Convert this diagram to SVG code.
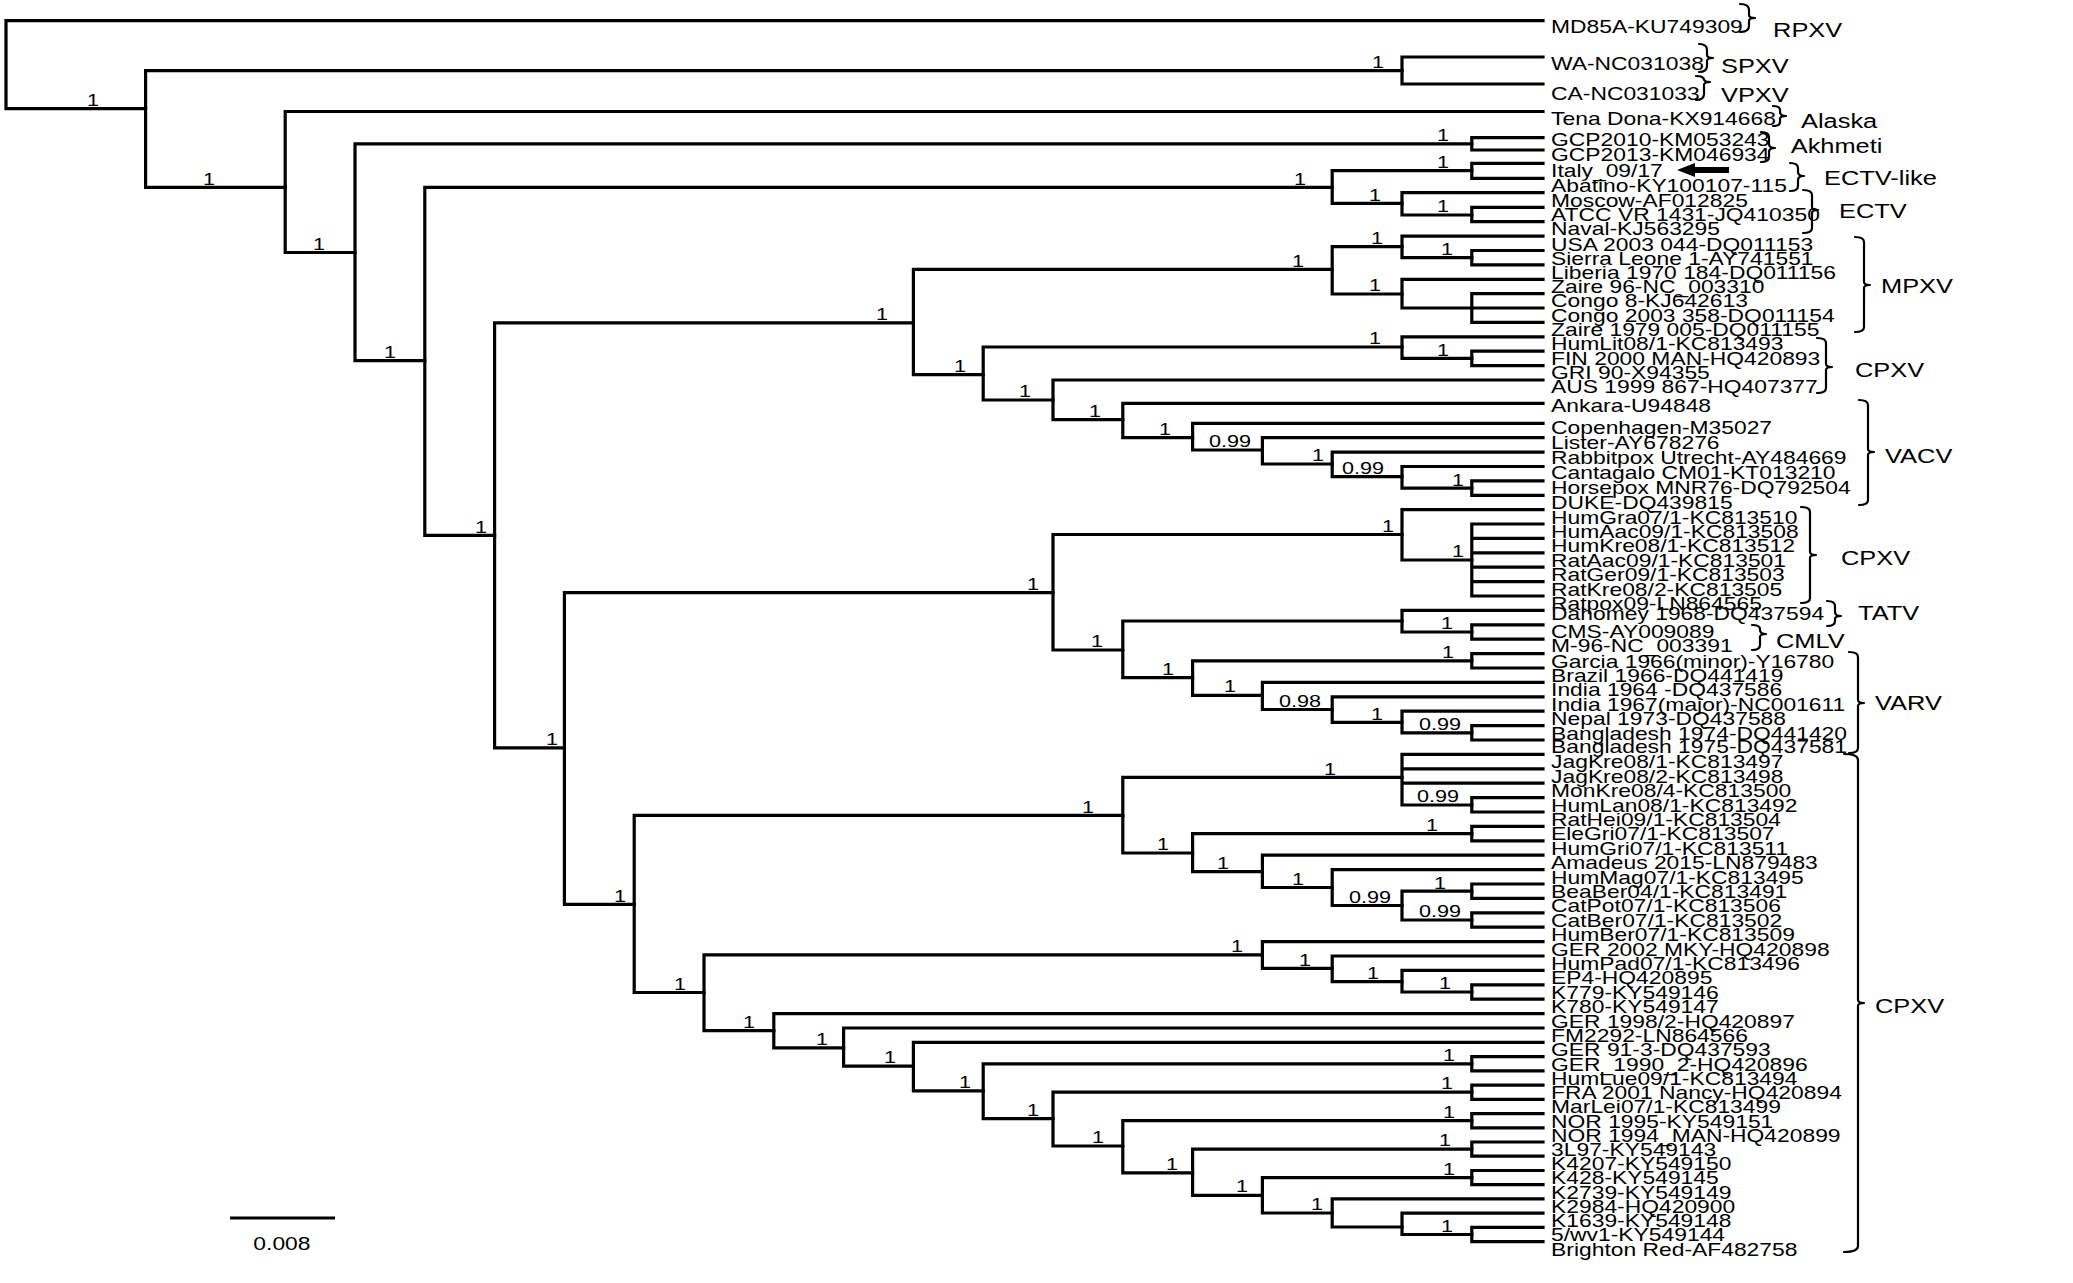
<svg xmlns="http://www.w3.org/2000/svg" width="2073" height="1283" viewBox="0 0 2073 1283">
<style>
.t{font-family:"Liberation Sans",Arial,sans-serif;fill:#000}
.lf{font-size:18px}
.sp{font-size:17px;text-anchor:middle}
.cl{font-size:20px}
.br{fill:none;stroke:#000;stroke-width:3.2;stroke-linecap:square}
.bk{fill:none;stroke:#000;stroke-width:2.2;stroke-linecap:round;stroke-linejoin:round}
</style>
<rect width="2073" height="1283" fill="#fff"/>
<g id="connectors" class="br">
<path d="M6 20.7V108.6M6 20.7H1543M6 108.6H145.6"/>
<path d="M145.6 70.7V187.3M145.6 70.7H1402M145.6 187.3H285.2"/>
<path d="M1402 57V84M1402 57H1543M1402 84H1543"/>
<path d="M285.2 111.5V252.5M285.2 111.5H1543M285.2 252.5H355"/>
<path d="M355 143.8V360.7M355 143.8H1471.8M355 360.7H424.8"/>
<path d="M1471.8 137.7V150M1471.8 137.7H1543M1471.8 150H1543"/>
<path d="M424.8 187.3V535.4M424.8 187.3H1332.2M424.8 535.4H494.6"/>
<path d="M1332.2 170.7V203.3M1332.2 170.7H1471.8M1332.2 203.3H1402"/>
<path d="M1471.8 163.3V178.3M1471.8 163.3H1543M1471.8 178.3H1543"/>
<path d="M1402 192.7V215M1402 192.7H1543M1402 215H1471.8"/>
<path d="M1471.8 207.3V221.7M1471.8 207.3H1543M1471.8 221.7H1543"/>
<path d="M494.6 322.8V747.8M494.6 322.8H913.4M494.6 747.8H564.4"/>
<path d="M913.4 269.4V374.6M913.4 269.4H1332.2M913.4 374.6H983.2"/>
<path d="M1332.2 246.7V294M1332.2 246.7H1402M1332.2 294H1402"/>
<path d="M1402 236.1V257.7M1402 236.1H1543M1402 257.7H1471.8"/>
<path d="M1471.8 250.5V264.9M1471.8 250.5H1543M1471.8 264.9H1543"/>
<path d="M1402 279.3V308M1402 279.3H1543M1402 308H1471.8"/>
<path d="M1471.8 293.7V322.4M1471.8 293.7H1543M1471.8 308H1543M1471.8 322.4H1543"/>
<path d="M983.2 347V400M983.2 347H1402M983.2 400H1053"/>
<path d="M1402 336.8V358.4M1402 336.8H1543M1402 358.4H1471.8"/>
<path d="M1471.8 351.2V365.6M1471.8 351.2H1543M1471.8 365.6H1543"/>
<path d="M1053 380V419.6M1053 380H1543M1053 419.6H1122.8"/>
<path d="M1122.8 403.3V437.7M1122.8 403.3H1543M1122.8 437.7H1192.6"/>
<path d="M1192.6 423.3V450M1192.6 423.3H1543M1192.6 450H1262.4"/>
<path d="M1262.4 437.7V464M1262.4 437.7H1543M1262.4 464H1332.2"/>
<path d="M1332.2 452.1V476.7M1332.2 452.1H1543M1332.2 476.7H1402"/>
<path d="M1402 466.5V488.1M1402 466.5H1543M1402 488.1H1471.8"/>
<path d="M1471.8 480.9V495.3M1471.8 480.9H1543M1471.8 495.3H1543"/>
<path d="M564.4 592.6V904.3M564.4 592.6H1053M564.4 904.3H634.2"/>
<path d="M1053 534.5V650M1053 534.5H1402M1053 650H1122.8"/>
<path d="M1402 509.6V560M1402 509.6H1543M1402 560H1471.8"/>
<path d="M1471.8 524V596M1471.8 524H1543M1471.8 538.4H1543M1471.8 552.8H1543M1471.8 567.2H1543M1471.8 581.6H1543M1471.8 596H1543"/>
<path d="M1122.8 621V677.7M1122.8 621H1402M1122.8 677.7H1192.6"/>
<path d="M1402 610.4V632M1402 610.4H1543M1402 632H1471.8"/>
<path d="M1471.8 624.8V639.2M1471.8 624.8H1543M1471.8 639.2H1543"/>
<path d="M1192.6 660.8V695.3M1192.6 660.8H1471.8M1192.6 695.3H1262.4"/>
<path d="M1471.8 653.6V668M1471.8 653.6H1543M1471.8 668H1543"/>
<path d="M1262.4 682.4V709.5M1262.4 682.4H1543M1262.4 709.5H1332.2"/>
<path d="M1332.2 696.8V722.3M1332.2 696.8H1543M1332.2 722.3H1402"/>
<path d="M1402 711.2V732.8M1402 711.2H1543M1402 732.8H1471.8"/>
<path d="M1471.8 725.6V740M1471.8 725.6H1543M1471.8 740H1543"/>
<path d="M634.2 815.4V992.5M634.2 815.4H1122.8M634.2 992.5H704"/>
<path d="M1122.8 777.3V853M1122.8 777.3H1402M1122.8 853H1192.6"/>
<path d="M1402 754.4V805M1402 754.4H1543M1402 768.8H1543M1402 783.2H1543M1402 805H1471.8"/>
<path d="M1471.8 797.6V812M1471.8 797.6H1543M1471.8 812H1543"/>
<path d="M1192.6 833.6V871.6M1192.6 833.6H1471.8M1192.6 871.6H1262.4"/>
<path d="M1471.8 826.4V840.8M1471.8 826.4H1543M1471.8 840.8H1543"/>
<path d="M1262.4 855.2V887.5M1262.4 855.2H1543M1262.4 887.5H1332.2"/>
<path d="M1332.2 869.6V905.5M1332.2 869.6H1543M1332.2 905.5H1402"/>
<path d="M1402 891.2V920M1402 891.2H1471.8M1402 920H1471.8"/>
<path d="M1471.8 884V898.4M1471.8 884H1543M1471.8 898.4H1543"/>
<path d="M1471.8 912.8V927.2M1471.8 912.8H1543M1471.8 927.2H1543"/>
<path d="M704 954.8V1030.6M704 954.8H1262.4M704 1030.6H773.8"/>
<path d="M1262.4 941.6V968.3M1262.4 941.6H1543M1262.4 968.3H1332.2"/>
<path d="M1332.2 956V981.7M1332.2 956H1543M1332.2 981.7H1402"/>
<path d="M1402 970.4V992M1402 970.4H1543M1402 992H1471.8"/>
<path d="M1471.8 984.8V999.2M1471.8 984.8H1543M1471.8 999.2H1543"/>
<path d="M773.8 1013.6V1047.8M773.8 1013.6H1543M773.8 1047.8H843.6"/>
<path d="M843.6 1028V1066.2M843.6 1028H1543M843.6 1066.2H913.4"/>
<path d="M913.4 1042.4V1090.8M913.4 1042.4H1543M913.4 1090.8H983.2"/>
<path d="M983.2 1063.8V1118.7M983.2 1063.8H1471.8M983.2 1118.7H1053"/>
<path d="M1471.8 1056.6V1070.9M1471.8 1056.6H1543M1471.8 1070.9H1543"/>
<path d="M1053 1092.2V1146M1053 1092.2H1471.8M1053 1146H1122.8"/>
<path d="M1471.8 1085.1V1099.3M1471.8 1085.1H1543M1471.8 1099.3H1543"/>
<path d="M1122.8 1120.7V1172.8M1122.8 1120.7H1471.8M1122.8 1172.8H1192.6"/>
<path d="M1471.8 1113.6V1127.8M1471.8 1113.6H1543M1471.8 1127.8H1543"/>
<path d="M1192.6 1149.1V1195.3M1192.6 1149.1H1471.8M1192.6 1195.3H1262.4"/>
<path d="M1471.8 1142V1156.2M1471.8 1142H1543M1471.8 1156.2H1543"/>
<path d="M1262.4 1177.6V1213M1262.4 1177.6H1471.8M1262.4 1213H1332.2"/>
<path d="M1471.8 1170.5V1184.7M1471.8 1170.5H1543M1471.8 1184.7H1543"/>
<path d="M1332.2 1198.9V1227M1332.2 1198.9H1543M1332.2 1227H1402"/>
<path d="M1402 1213.2V1234.5M1402 1213.2H1543M1402 1234.5H1471.8"/>
<path d="M1471.8 1227.4V1241.6M1471.8 1227.4H1543M1471.8 1241.6H1543"/>
</g>
<g id="leaves" class="t lf" transform="scale(1.27,1)">
<g id="leaf-01"><text x="1221.3" y="33.3">MD85A-KU749309</text></g>
<g id="leaf-02"><text x="1221.3" y="70">WA-NC031038</text></g>
<g id="leaf-03"><text x="1221.3" y="100">CA-NC031033</text></g>
<g id="leaf-04"><text x="1221.3" y="125">Tena Dona-KX914668</text></g>
<g id="leaf-05"><text x="1221.3" y="146.5">GCP2010-KM053243</text></g>
<g id="leaf-06"><text x="1221.3" y="161.5">GCP2013-KM046934</text></g>
<g id="leaf-07"><text x="1221.3" y="176.7">Italy_09/17</text></g>
<g id="leaf-08"><text x="1221.3" y="192.5">Abatino-KY100107-115</text></g>
<g id="leaf-09"><text x="1221.3" y="207.5">Moscow-AF012825</text></g>
<g id="leaf-10"><text x="1221.3" y="221.5">ATCC VR 1431-JQ410350</text></g>
<g id="leaf-11"><text x="1221.3" y="235.5">Naval-KJ563295</text></g>
<g id="leaf-12"><text x="1221.3" y="251.5">USA 2003 044-DQ011153</text></g>
<g id="leaf-13"><text x="1221.3" y="264.8">Sierra Leone 1-AY741551</text></g>
<g id="leaf-14"><text x="1221.3" y="279">Liberia 1970 184-DQ011156</text></g>
<g id="leaf-15"><text x="1221.3" y="293.3">Zaire 96-NC_003310</text></g>
<g id="leaf-16"><text x="1221.3" y="307.5">Congo 8-KJ642613</text></g>
<g id="leaf-17"><text x="1221.3" y="322">Congo 2003 358-DQ011154</text></g>
<g id="leaf-18"><text x="1221.3" y="336.4">Zaire 1979 005-DQ011155</text></g>
<g id="leaf-19"><text x="1221.3" y="350.5">HumLit08/1-KC813493</text></g>
<g id="leaf-20"><text x="1221.3" y="365">FIN 2000 MAN-HQ420893</text></g>
<g id="leaf-21"><text x="1221.3" y="379.5">GRI 90-X94355</text></g>
<g id="leaf-22"><text x="1221.3" y="393.5">AUS 1999 867-HQ407377</text></g>
<g id="leaf-23"><text x="1221.3" y="412.5">Ankara-U94848</text></g>
<g id="leaf-24"><text x="1221.3" y="434">Copenhagen-M35027</text></g>
<g id="leaf-25"><text x="1221.3" y="449">Lister-AY678276</text></g>
<g id="leaf-26"><text x="1221.3" y="464">Rabbitpox Utrecht-AY484669</text></g>
<g id="leaf-27"><text x="1221.3" y="479">Cantagalo CM01-KT013210</text></g>
<g id="leaf-28"><text x="1221.3" y="494">Horsepox MNR76-DQ792504</text></g>
<g id="leaf-29"><text x="1221.3" y="509">DUKE-DQ439815</text></g>
<g id="leaf-30"><text x="1221.3" y="523.6">HumGra07/1-KC813510</text></g>
<g id="leaf-31"><text x="1221.3" y="538">HumAac09/1-KC813508</text></g>
<g id="leaf-32"><text x="1221.3" y="552.4">HumKre08/1-KC813512</text></g>
<g id="leaf-33"><text x="1221.3" y="566.8">RatAac09/1-KC813501</text></g>
<g id="leaf-34"><text x="1221.3" y="581.2">RatGer09/1-KC813503</text></g>
<g id="leaf-35"><text x="1221.3" y="595.6">RatKre08/2-KC813505</text></g>
<g id="leaf-36"><text x="1221.3" y="610">Ratpox09-LN864565</text></g>
<g id="leaf-37"><text x="1221.3" y="620.5">Dahomey 1968-DQ437594</text></g>
<g id="leaf-38"><text x="1221.3" y="638">CMS-AY009089</text></g>
<g id="leaf-39"><text x="1221.3" y="652.5">M-96-NC_003391</text></g>
<g id="leaf-40"><text x="1221.3" y="667.6">Garcia 1966(minor)-Y16780</text></g>
<g id="leaf-41"><text x="1221.3" y="682">Brazil 1966-DQ441419</text></g>
<g id="leaf-42"><text x="1221.3" y="696.4">India 1964 -DQ437586</text></g>
<g id="leaf-43"><text x="1221.3" y="710.8">India 1967(major)-NC001611</text></g>
<g id="leaf-44"><text x="1221.3" y="725.2">Nepal 1973-DQ437588</text></g>
<g id="leaf-45"><text x="1221.3" y="739.6">Bangladesh 1974-DQ441420</text></g>
<g id="leaf-46"><text x="1221.3" y="753.5">Bangladesh 1975-DQ437581</text></g>
<g id="leaf-47"><text x="1221.3" y="768.4">JagKre08/1-KC813497</text></g>
<g id="leaf-48"><text x="1221.3" y="782.8">JagKre08/2-KC813498</text></g>
<g id="leaf-49"><text x="1221.3" y="797.2">MonKre08/4-KC813500</text></g>
<g id="leaf-50"><text x="1221.3" y="811.6">HumLan08/1-KC813492</text></g>
<g id="leaf-51"><text x="1221.3" y="826">RatHei09/1-KC813504</text></g>
<g id="leaf-52"><text x="1221.3" y="840.4">EleGri07/1-KC813507</text></g>
<g id="leaf-53"><text x="1221.3" y="854.8">HumGri07/1-KC813511</text></g>
<g id="leaf-54"><text x="1221.3" y="869.2">Amadeus 2015-LN879483</text></g>
<g id="leaf-55"><text x="1221.3" y="883.6">HumMag07/1-KC813495</text></g>
<g id="leaf-56"><text x="1221.3" y="898">BeaBer04/1-KC813491</text></g>
<g id="leaf-57"><text x="1221.3" y="912.4">CatPot07/1-KC813506</text></g>
<g id="leaf-58"><text x="1221.3" y="926.8">CatBer07/1-KC813502</text></g>
<g id="leaf-59"><text x="1221.3" y="941.2">HumBer07/1-KC813509</text></g>
<g id="leaf-60"><text x="1221.3" y="955.6">GER 2002 MKY-HQ420898</text></g>
<g id="leaf-61"><text x="1221.3" y="970">HumPad07/1-KC813496</text></g>
<g id="leaf-62"><text x="1221.3" y="984.4">EP4-HQ420895</text></g>
<g id="leaf-63"><text x="1221.3" y="998.8">K779-KY549146</text></g>
<g id="leaf-64"><text x="1221.3" y="1013.2">K780-KY549147</text></g>
<g id="leaf-65"><text x="1221.3" y="1027.6">GER 1998/2-HQ420897</text></g>
<g id="leaf-66"><text x="1221.3" y="1042">FM2292-LN864566</text></g>
<g id="leaf-67"><text x="1221.3" y="1056.4">GER 91-3-DQ437593</text></g>
<g id="leaf-68"><text x="1221.3" y="1070.6">GER_1990_2-HQ420896</text></g>
<g id="leaf-69"><text x="1221.3" y="1084.9">HumLue09/1-KC813494</text></g>
<g id="leaf-70"><text x="1221.3" y="1099.1">FRA 2001 Nancy-HQ420894</text></g>
<g id="leaf-71"><text x="1221.3" y="1113.3">MarLei07/1-KC813499</text></g>
<g id="leaf-72"><text x="1221.3" y="1127.6">NOR 1995-KY549151</text></g>
<g id="leaf-73"><text x="1221.3" y="1141.8">NOR 1994_MAN-HQ420899</text></g>
<g id="leaf-74"><text x="1221.3" y="1156">3L97-KY549143</text></g>
<g id="leaf-75"><text x="1221.3" y="1170.2">K4207-KY549150</text></g>
<g id="leaf-76"><text x="1221.3" y="1184.5">K428-KY549145</text></g>
<g id="leaf-77"><text x="1221.3" y="1198.7">K2739-KY549149</text></g>
<g id="leaf-78"><text x="1221.3" y="1212.9">K2984-HQ420900</text></g>
<g id="leaf-79"><text x="1221.3" y="1227.2">K1639-KY549148</text></g>
<g id="leaf-80"><text x="1221.3" y="1241.4">5/wv1-KY549144</text></g>
<g id="leaf-81"><text x="1221.3" y="1255.6">Brighton Red-AF482758</text></g>
</g>
<g id="support" class="t sp" transform="scale(1.27,1)">
<text x="73.2" y="106">1</text>
<text x="1085" y="68">1</text>
<text x="164.6" y="185">1</text>
<text x="251.2" y="250">1</text>
<text x="1136.2" y="141.5">1</text>
<text x="307.1" y="358">1</text>
<text x="1023.6" y="185">1</text>
<text x="1136.2" y="168">1</text>
<text x="1082.7" y="201">1</text>
<text x="1136.2" y="212.5">1</text>
<text x="378.7" y="533">1</text>
<text x="694.5" y="320">1</text>
<text x="1022" y="267">1</text>
<text x="1084.3" y="244">1</text>
<text x="1139.4" y="255.5">1</text>
<text x="1082.7" y="291.5">1</text>
<text x="755.9" y="372">1</text>
<text x="1082.7" y="344.5">1</text>
<text x="1136.2" y="356">1</text>
<text x="807.1" y="397.5">1</text>
<text x="862.2" y="417">1</text>
<text x="917.3" y="435">1</text>
<text x="968.5" y="447.5">0.99</text>
<text x="1037.8" y="461.5">1</text>
<text x="1073.2" y="474">0.99</text>
<text x="1148" y="486">1</text>
<text x="434.6" y="745">1</text>
<text x="813.4" y="590">1</text>
<text x="1092.9" y="532">1</text>
<text x="1148" y="557.5">1</text>
<text x="863.8" y="647.5">1</text>
<text x="1139.4" y="629">1</text>
<text x="919.7" y="675">1</text>
<text x="1140.2" y="658">1</text>
<text x="968.5" y="692.5">1</text>
<text x="1023.6" y="707">0.98</text>
<text x="1084.3" y="720">1</text>
<text x="1133.9" y="730.5">0.99</text>
<text x="488.2" y="902">1</text>
<text x="856.7" y="813">1</text>
<text x="1047.2" y="775">1</text>
<text x="1132.3" y="802.5">0.99</text>
<text x="915.7" y="850.5">1</text>
<text x="1127.6" y="831">1</text>
<text x="963" y="869">1</text>
<text x="1022" y="885">1</text>
<text x="1078.7" y="903">0.99</text>
<text x="1133.9" y="889">1</text>
<text x="1133.9" y="917.5">0.99</text>
<text x="535.4" y="990">1</text>
<text x="974" y="952">1</text>
<text x="1027.6" y="966">1</text>
<text x="1081.1" y="979">1</text>
<text x="1137.8" y="989.5">1</text>
<text x="589.8" y="1028">1</text>
<text x="647.2" y="1045">1</text>
<text x="700.8" y="1063.5">1</text>
<text x="759.8" y="1088">1</text>
<text x="1140.9" y="1061.5">1</text>
<text x="813.4" y="1116">1</text>
<text x="1139.4" y="1089.5">1</text>
<text x="864.6" y="1143.5">1</text>
<text x="1140.9" y="1118">1</text>
<text x="922.8" y="1170">1</text>
<text x="1137.8" y="1146.5">1</text>
<text x="977.9" y="1192.5">1</text>
<text x="1140.9" y="1175">1</text>
<text x="1037" y="1210">1</text>
<text x="1139.4" y="1232">1</text>
</g>
<g id="clades">
<g id="clade-RPXV"><path class="bk" d="M1740 4Q1749 4 1749 10V15Q1749 18 1755 18Q1749 18 1749 21V26Q1749 32 1740 32"/><text class="t cl" transform="scale(1.27,1)" x="1396.1" y="37">RPXV</text></g>
<g id="clade-SPXV"><path class="bk" d="M1699 44Q1707 44 1707 50V55Q1707 58 1713 58Q1707 58 1707 61V66Q1707 72 1699 72"/><text class="t cl" transform="scale(1.27,1)" x="1355.1" y="73">SPXV</text></g>
<g id="clade-VPXV"><path class="bk" d="M1696 76Q1704 76 1704 80V79Q1704 82 1710 82Q1704 82 1704 85V94Q1704 100 1696 100"/><text class="t cl" transform="scale(1.27,1)" x="1355.1" y="102">VPXV</text></g>
<g id="clade-Alaska"><path class="bk" d="M1773 106Q1780 106 1780 110V112Q1780 116 1786 116Q1780 116 1780 119V122Q1780 126 1773 126"/><text class="t cl" transform="scale(1.27,1)" x="1418.1" y="128">Alaska</text></g>
<g id="clade-Akhmeti"><path class="bk" d="M1761 132Q1769 132 1769 137V144Q1769 148 1775 148Q1769 148 1769 152V157Q1769 162 1761 162"/><text class="t cl" transform="scale(1.27,1)" x="1410" y="153">Akhmeti</text></g>
<g id="clade-ECTV-like"><path class="bk" d="M1790 163Q1798 163 1798 168V172Q1798 176 1804 176Q1798 176 1798 180V186Q1798 191 1790 191"/><text class="t cl" transform="scale(1.27,1)" x="1436.2" y="185">ECTV-like</text></g>
<g id="clade-ECTV"><path class="bk" d="M1803 190Q1812 190 1812 195V207Q1812 210 1818 210Q1812 210 1812 213V228Q1812 233 1803 233"/><text class="t cl" transform="scale(1.27,1)" x="1448" y="218">ECTV</text></g>
<g id="clade-MPXV"><path class="bk" d="M1855 237Q1864 237 1864 242V282Q1864 285 1870 285Q1864 285 1864 288V327Q1864 332 1855 332"/><text class="t cl" transform="scale(1.27,1)" x="1481.1" y="293">MPXV</text></g>
<g id="clade-CPXV-1"><path class="bk" d="M1817 338Q1826 338 1826 343V364Q1826 367 1832 367Q1826 367 1826 370V388Q1826 393 1817 393"/><text class="t cl" transform="scale(1.27,1)" x="1460.6" y="377">CPXV</text></g>
<g id="clade-VACV"><path class="bk" d="M1859 400Q1868 400 1868 405V449Q1868 452 1874 452Q1868 452 1868 455V500Q1868 505 1859 505"/><text class="t cl" transform="scale(1.27,1)" x="1484.3" y="463">VACV</text></g>
<g id="clade-CPXV-2"><path class="bk" d="M1801 507Q1810 507 1810 512V552Q1810 555 1816 555Q1810 555 1810 558V598Q1810 603 1801 603"/><text class="t cl" transform="scale(1.27,1)" x="1449.6" y="565">CPXV</text></g>
<g id="clade-TATV"><path class="bk" d="M1827 601Q1835 601 1835 606V612Q1835 616 1841 616Q1835 616 1835 619V621Q1835 626 1827 626"/><text class="t cl" transform="scale(1.27,1)" x="1463" y="620">TATV</text></g>
<g id="clade-CMLV"><path class="bk" d="M1752 625Q1760 625 1760 629V630Q1760 634 1766 634Q1760 634 1760 637V645Q1760 650 1752 650"/><text class="t cl" transform="scale(1.27,1)" x="1398.4" y="648">CMLV</text></g>
<g id="clade-VARV"><path class="bk" d="M1849 652Q1858 652 1858 657V700Q1858 703 1864 703Q1858 703 1858 706V748Q1858 753 1849 753"/><text class="t cl" transform="scale(1.27,1)" x="1476.4" y="710">VARV</text></g>
<g id="clade-CPXV-3"><path class="bk" d="M1844 754Q1858 754 1858 760V1000Q1858 1003 1864 1003Q1858 1003 1858 1006V1246Q1858 1252 1844 1252"/><text class="t cl" transform="scale(1.27,1)" x="1476.4" y="1013">CPXV</text></g>
</g>
<g id="arrow"><path d="M1677 170L1695 163V167H1729V173H1695V177Z" fill="#000"/></g>
<g id="scale-bar"><path d="M230 1218H335" stroke="#000" stroke-width="3"/><text class="t lf" transform="scale(1.27,1)" x="222" y="1250" text-anchor="middle">0.008</text></g>
</svg>
